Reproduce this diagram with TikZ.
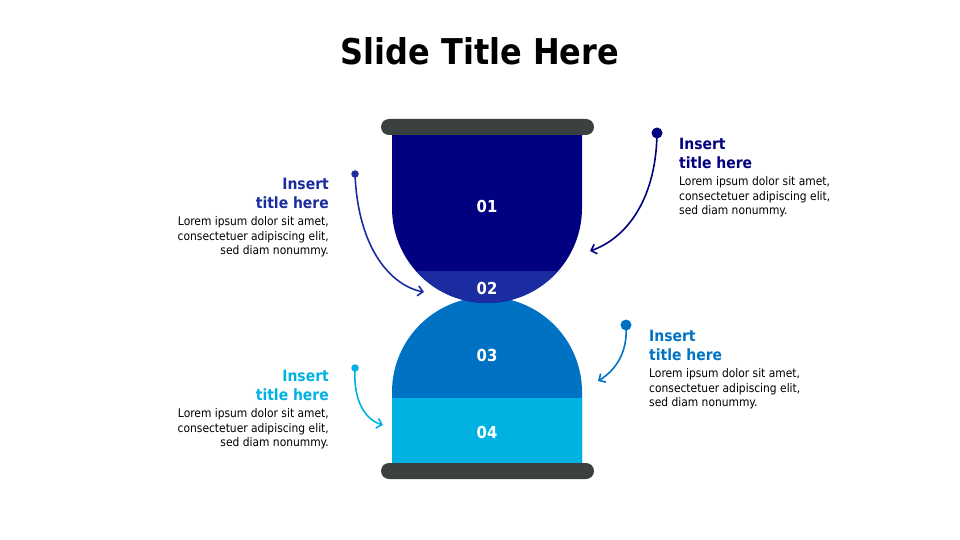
\documentclass[tikz,border=0pt]{standalone}
\usepackage{fontspec}
\setmainfont{DejaVu Sans Condensed}
\usetikzlibrary{arrows.meta}
\definecolor{cone}{HTML}{000080}
\definecolor{ctwo}{HTML}{1A2CA0}
\definecolor{cthree}{HTML}{0072C4}
\definecolor{cfour}{HTML}{00B2E2}
\definecolor{cbar}{HTML}{3B4040}
\tikzset{
  bar/.style={fill=cbar, rounded corners=8pt},
  numlbl/.style={text=white, font=\bfseries\fontsize{16.5}{18}\selectfont},
  ttl/.style={font=\bfseries\fontsize{15.5}{19}\selectfont, inner sep=0pt},
  body/.style={font=\fontsize{11.9}{14.5}\selectfont, inner sep=0pt, text=black},
  dotsm/.style={circle, inner sep=0pt, minimum size=7.5pt},
  dotlg/.style={circle, inner sep=0pt, minimum size=11pt},
  conn/.style={line width=1.6pt, -{Straight Barb[length=5pt,width=10pt,line width=1.6pt]}},
}
\begin{document}
\begin{tikzpicture}[x=1pt,y=-1pt]
\useasboundingbox (0,0) rectangle (960,540);
\node[font=\bfseries\fontsize{35.5}{40}\selectfont] (title) at (480,51) {Slide Title Here};
% bottom bulb
\begin{scope}
\path[clip] (392,463) -- (392,392) arc[start angle=180, end angle=360, radius=95] -- (582,463) -- cycle;
\fill[cthree] (380,280) rectangle (600,470);
\fill[cfour] (380,398) rectangle (600,470);
\end{scope}
% top bulb
\begin{scope}
\path[clip] (392,130) -- (392,208) arc[start angle=180, end angle=0, radius=95] -- (582,130) -- cycle;
\fill[cone] (380,125) rectangle (600,310);
\fill[ctwo] (380,271) rectangle (600,310);
\end{scope}
\fill[bar] (381,119) rectangle (594,135);
\fill[bar] (381,463) rectangle (594,479);
\node[numlbl] (n1) at (487,206) {01};
\node[numlbl] (n2) at (487,288) {02};
\node[numlbl] (n3) at (487,355) {03};
\node[numlbl] (n4) at (487,432) {04};
% dots and tips
\node[dotsm, fill=ctwo] (d1) at (355,174) {};
\node[dotlg, fill=cone] (d2) at (657,133) {};
\node[dotlg, fill=cthree] (d3) at (626,325) {};
\node[dotsm, fill=cfour] (d4) at (355,368) {};
\coordinate (t1) at (424,292);
\coordinate (t2) at (590,251);
\coordinate (t3) at (598,381);
\coordinate (t4) at (383,425);
\draw[conn, ctwo] (d1.center) .. controls (358,250) and (392,286) .. (t1);
\draw[conn, cone] (d2.center) .. controls (656,205) and (622,240) .. (t2);
\draw[conn, cthree] (d3.center) .. controls (628,352) and (616,370) .. (t3);
\draw[conn, cfour] (d4.center) .. controls (353,402) and (366,420) .. (t4);
% texts
\node[ttl, text=ctwo, anchor=north east, align=right] (h1) at (329,178.5) {Insert\\title here};
\node[body, anchor=north east, align=right] (b1) at (329,216.5) {Lorem ipsum dolor sit amet,\\consectetuer adipiscing elit,\\sed diam nonummy.};
\node[ttl, text=cone, anchor=north west, align=left] (h2) at (679,138.5) {Insert\\title here};
\node[body, anchor=north west, align=left] (b2) at (679,176.5) {Lorem ipsum dolor sit amet,\\consectetuer adipiscing elit,\\sed diam nonummy.};
\node[ttl, text=cthree, anchor=north west, align=left] (h3) at (649,329.5) {Insert\\title here};
\node[body, anchor=north west, align=left] (b3) at (649,368.5) {Lorem ipsum dolor sit amet,\\consectetuer adipiscing elit,\\sed diam nonummy.};
\node[ttl, text=cfour, anchor=north east, align=right] (h4) at (329,369.5) {Insert\\title here};
\node[body, anchor=north east, align=right] (b4) at (329,408.5) {Lorem ipsum dolor sit amet,\\consectetuer adipiscing elit,\\sed diam nonummy.};
\end{tikzpicture}
\end{document}
